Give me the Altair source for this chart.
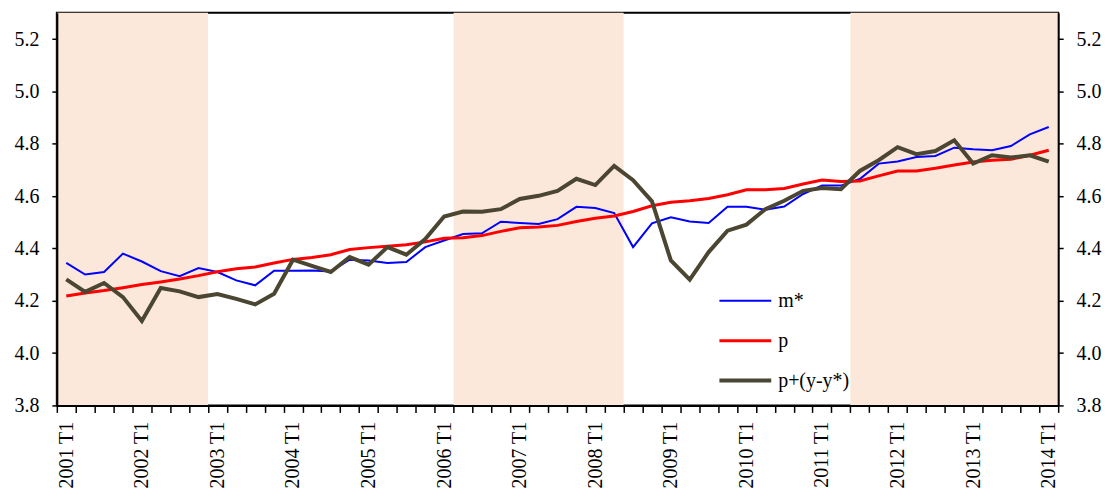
import json
import altair as alt
import pandas as pd

quarters = [
    "2001 T1", "2001 T2", "2001 T3", "2001 T4",
    "2002 T1", "2002 T2", "2002 T3", "2002 T4",
    "2003 T1", "2003 T2", "2003 T3", "2003 T4",
    "2004 T1", "2004 T2", "2004 T3", "2004 T4",
    "2005 T1", "2005 T2", "2005 T3", "2005 T4",
    "2006 T1", "2006 T2", "2006 T3", "2006 T4",
    "2007 T1", "2007 T2", "2007 T3", "2007 T4",
    "2008 T1", "2008 T2", "2008 T3", "2008 T4",
    "2009 T1", "2009 T2", "2009 T3", "2009 T4",
    "2010 T1", "2010 T2", "2010 T3", "2010 T4",
    "2011 T1", "2011 T2", "2011 T3", "2011 T4",
    "2012 T1", "2012 T2", "2012 T3", "2012 T4",
    "2013 T1", "2013 T2", "2013 T3", "2013 T4",
    "2014 T1",
]

m_star = [
    4.345, 4.300, 4.310, 4.380, 4.350, 4.313, 4.294, 4.325,
    4.310, 4.278, 4.259, 4.315, 4.315, 4.316, 4.312, 4.357,
    4.354, 4.344, 4.348, 4.405, 4.430, 4.455, 4.458, 4.502,
    4.497, 4.493, 4.512, 4.559, 4.554, 4.535, 4.405, 4.496,
    4.519, 4.503, 4.497, 4.559, 4.559, 4.548, 4.560, 4.608,
    4.640, 4.640, 4.665, 4.724, 4.732, 4.749, 4.753, 4.785,
    4.779, 4.775, 4.791, 4.836, 4.864,
]

p = [
    4.218, 4.230, 4.239, 4.250, 4.262, 4.272, 4.283, 4.296,
    4.311, 4.322, 4.329, 4.344, 4.358, 4.365, 4.376, 4.396,
    4.403, 4.408, 4.414, 4.425, 4.439, 4.441, 4.449, 4.465,
    4.479, 4.482, 4.488, 4.503, 4.515, 4.524, 4.541, 4.563,
    4.576, 4.582, 4.591, 4.605, 4.624, 4.624, 4.629, 4.646,
    4.661, 4.656, 4.658, 4.677, 4.696, 4.696, 4.706, 4.719,
    4.730, 4.737, 4.741, 4.756, 4.775,
]

p_gap = [
    4.282, 4.234, 4.268, 4.214, 4.123, 4.249, 4.236, 4.214,
    4.226, 4.207, 4.186, 4.227, 4.357, 4.333, 4.310, 4.367,
    4.338, 4.405, 4.376, 4.436, 4.522, 4.541, 4.540, 4.550,
    4.589, 4.601, 4.620, 4.666, 4.642, 4.715, 4.661, 4.580,
    4.354, 4.281, 4.386, 4.468, 4.491, 4.550, 4.582, 4.620,
    4.631, 4.626, 4.696, 4.737, 4.787, 4.760, 4.772, 4.813,
    4.724, 4.756, 4.747, 4.756, 4.732,
]

series_names = ["m*", "p", "p+(y-y*)"]
series_colors = ["#0000FF", "#FF0000", "#4B4631"]
series_widths = [2, 4, 5.5]

shade_start = ["2001 T1", "2006 T2", "2011 T3"]
shade_end = ["2002 T4", "2008 T2", "2014 T1"]
shade_color = "#FCE8DA"

y_ticks = [3.8, 4.0, 4.2, 4.4, 4.6, 4.8, 5.0, 5.2]
y_min, y_max = 3.8, 5.3
label_every = 4

FONT = "'Liberation Serif', 'DejaVu Serif', serif"
FS = 20
W, H = 1005, 394

rows = []
for name, vals in zip(series_names, [m_star, p, p_gap]):
    for i, (q, v) in enumerate(zip(quarters, vals)):
        rows.append({"i": i, "quarter": q, "series": name, "value": v})
df = pd.DataFrame(rows)

shade_df = pd.DataFrame({
    "x0": [quarters.index(s) - 0.5 for s in shade_start],
    "x1": [quarters.index(e) + 0.5 for e in shade_end],
})

n = len(quarters)
xscale = alt.Scale(domain=[-0.5, n - 0.5], nice=False, zero=False)
yscale = alt.Scale(domain=[y_min, y_max], nice=False, zero=False)
cscale = alt.Scale(domain=series_names, range=series_colors)
wscale = alt.Scale(domain=series_names, range=series_widths)

tick_axis = alt.Axis(
    orient="bottom", values=[k - 0.5 for k in range(n + 1)], labels=False,
    ticks=True, tickSize=7, tickWidth=1.5, tickColor="black",
    domain=True, domainColor="black", domainWidth=2, grid=False, title=None,
    zindex=1,
)
label_expr = "[" + ",".join(json.dumps(q) for q in quarters) + "][datum.value]"
label_axis = alt.Axis(
    orient="bottom", values=list(range(0, n, label_every)), labelExpr=label_expr,
    labelAngle=270, ticks=False, domain=False, grid=False, title=None,
    labelPadding=16, labelFont=FONT, labelFontSize=FS, labelColor="black",
    labelOverlap=False, labelFlush=False, labelBound=False, zindex=1,
)
left_axis = alt.Axis(
    orient="left", values=y_ticks, format=".1f", tickSize=5, tickWidth=1.5,
    tickColor="black", domainColor="black", domainWidth=2, grid=False,
    title=None, labelPadding=13, labelFont=FONT, labelFontSize=FS,
    labelColor="black", minExtent=48, maxExtent=48, zindex=1,
)
right_axis = alt.Axis(
    orient="right", values=y_ticks, format=".1f", tickSize=5, tickWidth=1.5,
    tickColor="black", domainColor="black", domainWidth=2, grid=False,
    title=None, labelPadding=13, labelFont=FONT, labelFontSize=FS,
    labelColor="black", zindex=1,
)

legend = alt.Legend(
    orient="none", legendX=663, legendY=269, title=None,
    symbolType="stroke", symbolSize=2704, clipHeight=40, rowPadding=0,
    labelFont=FONT, labelFontSize=FS, labelColor="black", labelOffset=5,
    padding=0,
)

shade = alt.Chart(shade_df).mark_rect(color=shade_color).encode(
    x=alt.X("x0:Q", scale=xscale, axis=tick_axis),
    x2="x1:Q",
    y=alt.YDatum(y_max, scale=yscale, axis=None),
    y2=alt.Y2Datum(y_min),
)

def line_layer(name, x_axis, y_axis):
    return alt.Chart(df).transform_filter(
        alt.datum.series == name
    ).mark_line(strokeJoin="miter", strokeCap="butt").encode(
        x=alt.X("i:Q", scale=xscale, axis=x_axis),
        y=alt.Y("value:Q", scale=yscale, axis=y_axis),
        color=alt.Color("series:N", scale=cscale, legend=legend),
        strokeWidth=alt.StrokeWidth("series:N", scale=wscale, legend=legend),
    )

chart = alt.layer(
    shade,
    line_layer(series_names[0], label_axis, left_axis),
    line_layer(series_names[1], None, right_axis),
    line_layer(series_names[2], None, None),
).resolve_axis(x="independent", y="independent").properties(
    width=W, height=H,
    padding={"left": 1, "top": 4, "right": 5, "bottom": 5},
).configure_view(stroke="black", strokeWidth=2)

chart.save("out.html", embed_options={"renderer": "svg", "actions": False})
